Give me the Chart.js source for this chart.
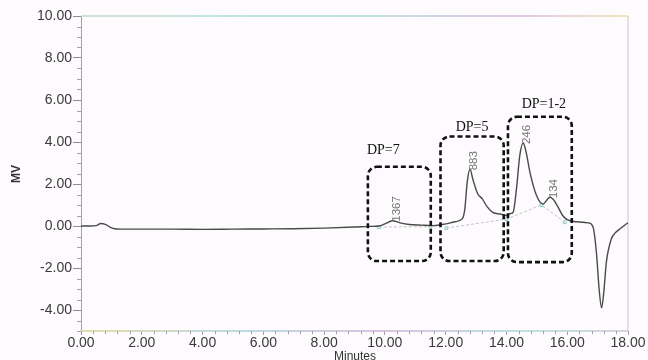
<!DOCTYPE html>
<html>
<head>
<meta charset="utf-8">
<script src="https://cdn.jsdelivr.net/npm/chart.js@4.4.1/dist/chart.umd.min.js"></script>
<style>
  html, body { margin: 0; padding: 0; background: #fdfbfd; }
  #wrap { width: 648px; height: 360px; position: relative; }
</style>
</head>
<body>
<div id="wrap"><canvas id="c" width="648" height="360"></canvas></div>
<script>
// Detector trace: retention time (min) and signal (mV)
const times = [0.0, 0.3, 0.5, 0.65, 0.8, 0.95, 1.1, 1.3, 2.0, 3.0, 4.0, 5.0, 6.0, 7.0, 8.0, 9.0, 9.5, 9.8,
  10.0, 10.25, 10.5, 10.8, 11.2, 11.6, 12.0, 12.3, 12.55, 12.63, 12.71, 12.8, 12.9, 13.05, 13.2, 13.35, 13.55,
  13.8, 14.0, 14.15, 14.22, 14.33, 14.44, 14.55, 14.65, 14.77, 14.99, 15.2, 15.43, 15.55, 15.7, 15.85, 16.0,
  16.3, 16.7, 16.85, 16.96, 17.05, 17.13, 17.2, 17.29, 17.45, 17.6, 17.75, 17.9, 18.0];
const signal = [0.0, 0.0, 0.02, 0.12, 0.08, -0.05, -0.13, -0.15, -0.15, -0.15, -0.16, -0.15, -0.14, -0.13, -0.10, -0.05, -0.02, 0.0,
  0.1, 0.25, 0.15, 0.07, 0.04, 0.02, 0.1, 0.2, 0.35, 0.8, 2.1, 2.7, 2.2, 1.55, 1.3, 0.95, 0.65,
  0.57, 0.5, 0.6, 0.65, 1.77, 3.36, 3.95, 3.5, 2.58, 1.45, 1.05, 1.37, 1.25, 0.9, 0.5, 0.3,
  0.2, 0.15, -0.05, -1.25, -3.0, -3.9, -3.2, -1.7, -0.62, -0.3, -0.12, 0.05, 0.15];

// Integration baselines drawn under the peaks
const baseTimes = [9.8, 11.5, null, 12.02, 14.0, 15.15, 15.92];
const baseValues = [-0.05, -0.03, null, -0.1, 0.33, 1.0, 0.18];

// Peak labels (retention index) placed at peak apex
const peakNames = ['1367', '883', '246', '134'];
const peakTimes = [10.25, 12.8, 14.55, 15.43];
const peakValues = [0.25, 2.7, 3.95, 1.37];

// Fraction groups: label, time range, signal range
const groupNames = ['DP=7', 'DP=5', 'DP=1-2'];
const groupStart = [9.44, 11.83, 14.05];
const groupEnd = [11.51, 13.91, 16.15];
const groupTop = [2.82, 4.26, 5.2];
const groupBottom = [-1.67, -1.67, -1.72];

const tracePoints = times.map((t, i) => ({ x: t, y: signal[i] }));
const basePoints = baseTimes.map((t, i) => ({ x: t, y: baseValues[i] }));

const isMajor = (v, step) => Math.abs(v / step - Math.round(v / step)) < 1e-6;

// pixel nudges for the group captions (dx, dy from box top centre)
const captionShift = [[-16, -16], [0, -9], [4, -12]];

const annotate = {
  id: 'annotate',
  beforeDatasetsDraw(chart) {
    const { ctx, chartArea: a, scales: { x, y } } = chart;
    ctx.save();
    // top frame line and right frame line
    ctx.lineWidth = 1.5;
    const g = ctx.createLinearGradient(a.left, 0, a.right, 0);
    g.addColorStop(0, '#b9ddc6');
    g.addColorStop(0.5, '#a9dcd6');
    g.addColorStop(0.8, '#d7b9df');
    g.addColorStop(1, '#e8e2a8');
    ctx.strokeStyle = g;
    ctx.beginPath();
    ctx.moveTo(a.left, a.top); ctx.lineTo(a.right, a.top); ctx.stroke();
    ctx.strokeStyle = '#d4d0d6';
    ctx.lineWidth = 1.2;
    ctx.beginPath();
    ctx.moveTo(a.right, a.top); ctx.lineTo(a.right, a.bottom); ctx.stroke();
    // bottom axis line
    const gb = ctx.createLinearGradient(a.left, 0, a.right, 0);
    gb.addColorStop(0, '#d8d48a');
    gb.addColorStop(0.3, '#a8cfd8');
    gb.addColorStop(0.55, '#cfb2d6');
    gb.addColorStop(0.8, '#a8d8d8');
    gb.addColorStop(1, '#c8c8c8');
    ctx.strokeStyle = gb;
    ctx.lineWidth = 1.5;
    ctx.beginPath();
    ctx.moveTo(a.left, a.bottom); ctx.lineTo(a.right, a.bottom); ctx.stroke();
    // minor ticks
    ctx.strokeStyle = '#a49cb4';
    ctx.lineWidth = 1;
    x.ticks.forEach(t => {
      if (!isMajor(t.value, 2)) {
        const px = Math.round(x.getPixelForValue(t.value)) + 0.5;
        ctx.beginPath(); ctx.moveTo(px, a.bottom); ctx.lineTo(px, a.bottom + 3); ctx.stroke();
      }
    });
    y.ticks.forEach(t => {
      if (!isMajor(t.value, 2)) {
        const py = Math.round(y.getPixelForValue(t.value)) + 0.5;
        ctx.beginPath(); ctx.moveTo(a.left - 4, py); ctx.lineTo(a.left, py); ctx.stroke();
      }
    });
    ctx.restore();
  },
  afterDatasetsDraw(chart) {
    const { ctx, scales: { x, y } } = chart;
    ctx.save();
    // dashed group boxes
    ctx.strokeStyle = '#111';
    ctx.lineWidth = 2.6;
    ctx.setLineDash([5, 3]);
    groupNames.forEach((name, i) => {
      const l = x.getPixelForValue(groupStart[i]);
      const r = x.getPixelForValue(groupEnd[i]);
      const t = y.getPixelForValue(groupTop[i]);
      const b = y.getPixelForValue(groupBottom[i]);
      ctx.beginPath();
      ctx.roundRect(l, t, r - l, b - t, 9);
      ctx.stroke();
    });
    ctx.setLineDash([]);
    ctx.fillStyle = '#111';
    ctx.font = '14px "Liberation Serif", serif';
    ctx.textAlign = 'center';
    ctx.textBaseline = 'middle';
    groupNames.forEach((name, i) => {
      const cx = x.getPixelForValue((groupStart[i] + groupEnd[i]) / 2) + captionShift[i][0];
      const cy = y.getPixelForValue(groupTop[i]) + captionShift[i][1];
      ctx.fillText(name, cx, cy);
    });
    // rotated peak labels
    ctx.fillStyle = '#777';
    ctx.font = '11.5px "Liberation Sans", Arial, sans-serif';
    ctx.textAlign = 'left';
    peakNames.forEach((name, i) => {
      const px = x.getPixelForValue(peakTimes[i]) + 4;
      const py = y.getPixelForValue(peakValues[i]) + 1;
      ctx.save();
      ctx.translate(px, py);
      ctx.rotate(-Math.PI / 2);
      ctx.fillText(name, 0, 0);
      ctx.restore();
    });
    // axis titles
    ctx.fillStyle = '#333';
    ctx.font = 'bold 12px "Liberation Sans", Arial, sans-serif';
    ctx.textAlign = 'center';
    ctx.save();
    ctx.translate(17, 174);
    ctx.rotate(-Math.PI / 2);
    ctx.fillText('MV', 0, 0);
    ctx.restore();
    ctx.font = '12px "Liberation Sans", Arial, sans-serif';
    ctx.fillText('Minutes', 355, 357);
    ctx.restore();
  }
};

new Chart(document.getElementById('c'), {
  type: 'line',
  data: {
    datasets: [
      {
        data: tracePoints,
        borderColor: '#4a4a4a',
        borderWidth: 1.4,
        pointRadius: 0,
        cubicInterpolationMode: 'monotone',
        fill: false
      },
      {
        data: basePoints,
        borderColor: '#c4c4c4',
        borderWidth: 1,
        borderDash: [3, 2],
        pointRadius: 2,
        pointStyle: 'rect',
        pointBorderColor: '#8fcfc8',
        pointBackgroundColor: 'rgba(0,0,0,0)',
        pointBorderWidth: 1,
        spanGaps: false,
        fill: false
      }
    ]
  },
  options: {
    responsive: false,
    animation: false,
    layout: { padding: { top: 16, right: 20, left: 0, bottom: 0 } },
    plugins: { legend: { display: false }, tooltip: { enabled: false } },
    scales: {
      x: {
        type: 'linear',
        min: 0, max: 18,
        afterFit: s => { s.height = 29; },
        afterBuildTicks: s => {
          const ticks = [];
          for (let i = 0; i <= 45; i++) ticks.push({ value: Math.round(i * 0.4 * 10) / 10 });
          s.ticks = ticks;
        },
        ticks: {
          autoSkip: false,
          maxRotation: 0,
          padding: 0,
          color: '#3a3a3a',
          font: { family: '"Liberation Sans", Arial, sans-serif', size: 14 },
          callback: v => isMajor(v, 2) ? v.toFixed(2) : ''
        },
        grid: {
          drawOnChartArea: false,
          tickLength: 4,
          tickColor: c => (c.tick && isMajor(c.tick.value, 2)) ? '#a49cb4' : 'rgba(0,0,0,0)'
        },
        border: { display: false }
      },
      y: {
        min: -5, max: 10,
        afterFit: s => { s.width = 81; },
        ticks: {
          stepSize: 0.5,
          autoSkip: false,
          padding: 1,
          color: '#3a3a3a',
          font: { family: '"Liberation Sans", Arial, sans-serif', size: 14 },
          callback: v => isMajor(v, 2) ? v.toFixed(2) : ''
        },
        grid: {
          drawOnChartArea: false,
          tickLength: 8,
          tickColor: c => (c.tick && isMajor(c.tick.value, 2)) ? '#8f88a0' : 'rgba(0,0,0,0)'
        },
        border: { display: true, color: '#a49cb4', width: 1 }
      }
    }
  },
  plugins: [annotate]
});
</script>
</body>
</html>
